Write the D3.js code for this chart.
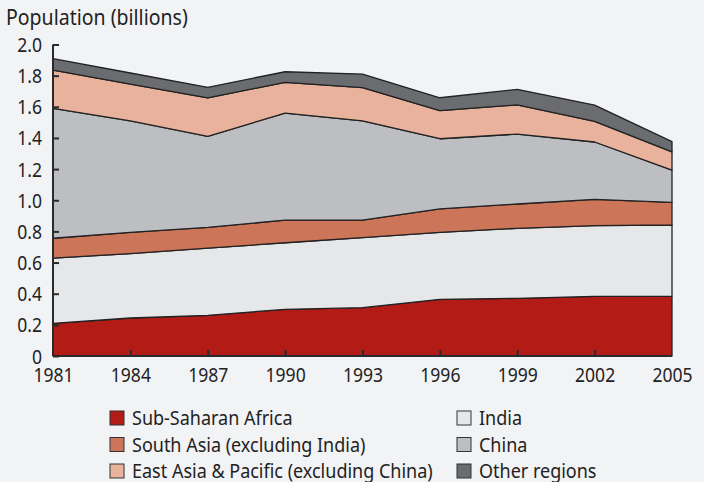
<!DOCTYPE html>
<head>
  <meta charset="utf-8" />
  <script src="https://d3js.org/d3.v7.min.js"></script>
  <style>
    body { margin: 0; background: #f2f3f5; }
    text { font-family: "Noto Sans", sans-serif; fill: #222; }
  </style>
</head>
<body>
  <script>
    var width = 704, height = 482;

    // data (billions)
    var years = [1981, 1984, 1987, 1990, 1993, 1996, 1999, 2002, 2005];
    var subSaharan = [0.21, 0.244, 0.261, 0.30, 0.31, 0.364, 0.37, 0.383, 0.385];
    var india = [0.419, 0.413, 0.431, 0.427, 0.45, 0.43, 0.45, 0.454, 0.456];
    var southAsia = [0.127, 0.137, 0.134, 0.146, 0.113, 0.15, 0.156, 0.169, 0.146];
    var china = [0.834, 0.715, 0.584, 0.687, 0.637, 0.451, 0.449, 0.368, 0.207];
    var eastAsia = [0.246, 0.237, 0.248, 0.197, 0.213, 0.18, 0.187, 0.132, 0.116];
    var other = [0.073, 0.071, 0.067, 0.068, 0.087, 0.083, 0.10, 0.105, 0.066];
    var yTicks = [0, 0.2, 0.4, 0.6, 0.8, 1.0, 1.2, 1.4, 1.6, 1.8, 2.0];

    var keys = ["ssa", "india", "sa", "china", "eap", "other"];
    var names = {
      ssa: "Sub-Saharan Africa",
      india: "India",
      sa: "South Asia (excluding India)",
      china: "China",
      eap: "East Asia & Pacific (excluding China)",
      other: "Other regions"
    };
    var colors = {
      ssa: "#b31b17", india: "#e6e7e9", sa: "#cd7558",
      china: "#bdbec2", eap: "#e8b29c", other: "#6b6c70"
    };

    var rows = years.map(function (y, i) {
      return { year: y, ssa: subSaharan[i], india: india[i], sa: southAsia[i],
               china: china[i], eap: eastAsia[i], other: other[i] };
    });

    var svg = d3.select("body").append("svg")
      .attr("width", width).attr("height", height);

    var x = d3.scaleLinear().domain([1981, 2005]).range([53, 672]);
    var y = d3.scaleLinear().domain([0, 2]).range([356, 44.5]);

    var series = d3.stack().keys(keys)(rows);

    var area = d3.area()
      .x(function (d) { return x(d.data.year); })
      .y0(function (d) { return y(d[0]); })
      .y1(function (d) { return y(d[1]); });

    svg.append("g").selectAll("path")
      .data(series)
      .join("path")
      .attr("d", area)
      .attr("fill", function (d) { return colors[d.key]; })
      .attr("stroke", "#222")
      .attr("stroke-width", 1.3)
      .attr("stroke-linejoin", "round");

    // the source font is a narrow one, so squeeze the text a bit
    var sq = 0.9;

    // title
    svg.append("text")
      .attr("transform", "translate(6,25) scale(0.93,1)")
      .style("font-size", "21px")
      .text("Population (billions)");

    // y axis
    var yAxis = d3.axisRight(y).tickValues(yTicks).tickSize(6)
      .tickFormat(function (d) { return d === 0 ? "0" : d3.format(".1f")(d); });
    var gy = svg.append("g").attr("transform", "translate(53,0)").call(yAxis);
    gy.select(".domain").remove();
    gy.append("line").attr("x1", 0).attr("x2", 0)
      .attr("y1", y(2)).attr("y2", y(0))
      .attr("stroke", "#2a2a2a").attr("stroke-width", 2);
    gy.selectAll(".tick line").attr("stroke", "#2a2a2a").attr("stroke-width", 2);
    gy.selectAll(".tick text")
      .attr("x", null).attr("dy", null)
      .attr("transform", "translate(-11,7) scale(" + sq + ",1)")
      .attr("text-anchor", "end")
      .style("font-size", "19.5px").style("fill", "#222");

    // x axis
    var xAxis = d3.axisTop(x).tickValues(years).tickSize(6).tickFormat(d3.format("d"));
    var gx = svg.append("g").attr("transform", "translate(0,356)").call(xAxis);
    gx.select(".domain").remove();
    gx.append("line").attr("x1", x(1981)).attr("x2", x(2005))
      .attr("stroke", "#2a2a2a").attr("stroke-width", 2);
    gx.selectAll(".tick line")
      .attr("stroke", function (d) { return d === 1981 || d === 2005 ? "none" : "#2a2a2a"; })
      .attr("stroke-width", 2);
    gx.selectAll(".tick text")
      .attr("y", null).attr("dy", null)
      .attr("transform", "translate(0,26) scale(" + sq + ",1)")
      .style("font-size", "19.5px").style("fill", "#222");

    // legend
    var legendOrder = ["ssa", "sa", "eap", "india", "china", "other"];
    var legend = svg.append("g").selectAll("g")
      .data(legendOrder)
      .join("g")
      .attr("transform", function (d, i) {
        return "translate(" + (i < 3 ? 110 : 457) + "," + (411 + (i % 3) * 26.5) + ")";
      });
    legend.append("rect")
      .attr("width", 14).attr("height", 14)
      .attr("fill", function (d) { return colors[d]; })
      .attr("stroke", "#333").attr("stroke-width", 1);
    legend.append("text")
      .attr("transform", "translate(22,14) scale(" + sq + ",1)")
      .style("font-size", "20px")
      .text(function (d) { return names[d]; });
  </script>
</body>
